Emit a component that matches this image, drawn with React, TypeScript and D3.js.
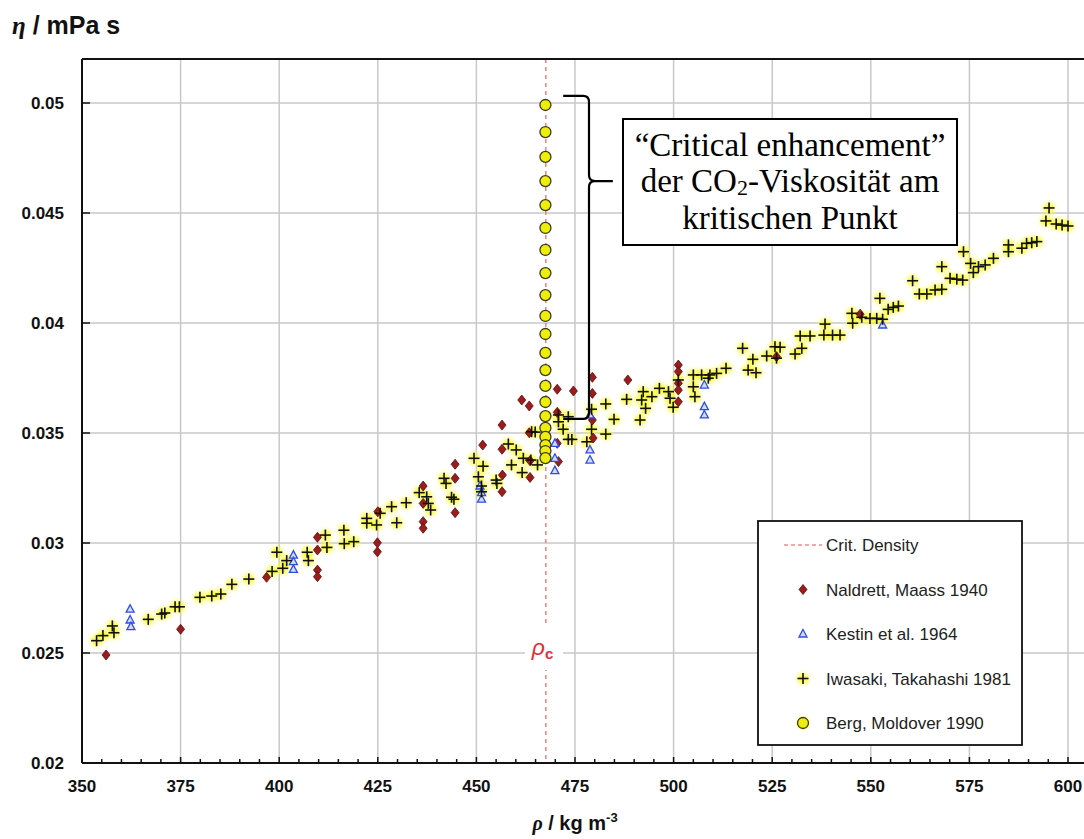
import React from 'react';
import * as d3 from 'd3';

// CO2 viscosity near the critical density, several experimental data sets.
// Each series: [density rho (kg/m3), viscosity eta (mPa s)]
const naldrett: [number, number][] = [
  [356.1, 0.02491], [375.0, 0.02608], [396.8, 0.02844],
  [409.7, 0.03026], [409.7, 0.02968], [409.7, 0.02877], [409.7, 0.02847],
  [424.9, 0.03001], [424.9, 0.0296], [425.0, 0.03142],
  [436.5, 0.03259], [436.5, 0.0318], [436.5, 0.03097], [436.5, 0.03067],
  [444.6, 0.03358], [444.6, 0.03294], [444.6, 0.03138],
  [451.6, 0.03445],
  [456.5, 0.03536], [456.5, 0.03426], [456.6, 0.03309], [456.5, 0.03233],
  [461.5, 0.0365], [463.4, 0.03623], [463.4, 0.03501], [463.6, 0.03374], [463.6, 0.03298],
  [470.5, 0.03699], [470.5, 0.03594], [470.5, 0.03453], [470.8, 0.0337],
  [474.6, 0.03691],
  [479.4, 0.03753], [479.4, 0.0368], [479.4, 0.03559], [479.6, 0.03477],
  [488.4, 0.03741],
  [501.2, 0.03809], [501.2, 0.03779], [501.2, 0.03726], [501.2, 0.03695], [501.2, 0.03642],
  [526.1, 0.03847], [547.3, 0.0404],
];

const kestin: [number, number][] = [
  [362.2, 0.02699], [362.2, 0.0265], [362.4, 0.0262],
  [403.6, 0.02945], [403.6, 0.02915], [403.6, 0.0288],
  [450.9, 0.03259], [451.3, 0.03229], [451.3, 0.03199],
  [469.9, 0.03453], [469.9, 0.03385], [469.9, 0.03329],
  [478.8, 0.03582], [478.8, 0.03423], [478.8, 0.03377],
  [507.8, 0.03718], [507.8, 0.0362], [507.8, 0.03582],
  [553.0, 0.03991],
];

const iwasaki: [number, number][] = [
  [353.7, 0.02556], [355.3, 0.02579], [357.7, 0.02623], [358.1, 0.02592],
  [366.8, 0.02653], [370.2, 0.02677], [371.0, 0.02682], [373.6, 0.0271], [374.7, 0.0271],
  [379.9, 0.02753], [382.9, 0.02759], [385.2, 0.02768], [388.0, 0.02812], [392.3, 0.02836],
  [398.2, 0.02871], [399.4, 0.02958], [400.9, 0.02885], [401.9, 0.0292],
  [407.1, 0.02958], [407.4, 0.0292], [411.7, 0.03036], [412.1, 0.0298],
  [416.4, 0.03058], [416.5, 0.02997], [418.9, 0.03006],
  [422.2, 0.03112], [422.2, 0.0309], [424.7, 0.03082], [425.6, 0.03135],
  [428.5, 0.03165], [429.8, 0.03092], [432.2, 0.03183],
  [435.5, 0.03229], [437.4, 0.0321], [437.8, 0.0318], [438.4, 0.0315],
  [441.8, 0.03294], [442.3, 0.03271], [443.7, 0.03208], [444.3, 0.03199],
  [449.4, 0.03385], [451.7, 0.03349], [450.5, 0.03301], [451.3, 0.03259], [451.3, 0.03233],
  [455.0, 0.03286], [455.2, 0.03271],
  [458.1, 0.0345], [460.1, 0.03423], [458.9, 0.03355], [461.9, 0.03385], [461.6, 0.0332],
  [463.8, 0.03377], [465.5, 0.03355], [464.0, 0.03506], [464.9, 0.03504],
  [470.8, 0.03582], [470.8, 0.03551], [473.3, 0.03574], [472.0, 0.03517],
  [473.3, 0.03471], [474.2, 0.03471],
  [479.2, 0.03608], [479.2, 0.03517], [478.0, 0.0346],
  [482.8, 0.03632], [484.9, 0.03562], [482.8, 0.03495],
  [488.1, 0.03653], [491.5, 0.03559], [491.9, 0.0365], [492.3, 0.03688], [492.9, 0.03612],
  [494.5, 0.03665], [496.4, 0.03703], [498.7, 0.03688], [499.1, 0.03658], [499.9, 0.03617],
  [501.2, 0.03741], [505.0, 0.03764], [505.0, 0.0371], [505.4, 0.03665],
  [507.1, 0.03764], [508.8, 0.03749], [509.2, 0.03764], [510.9, 0.03771], [513.3, 0.03794],
  [517.5, 0.03885], [520.1, 0.03835], [518.9, 0.03786], [520.9, 0.03774],
  [523.6, 0.0385], [525.7, 0.03892], [527.0, 0.0389], [526.1, 0.0384],
  [530.8, 0.03859], [532.5, 0.03885], [532.1, 0.03941], [534.6, 0.03941],
  [538.4, 0.03995], [538.1, 0.03945], [540.3, 0.03945], [542.2, 0.03945],
  [545.4, 0.03999], [545.2, 0.04044], [547.7, 0.04026], [549.8, 0.04021],
  [551.5, 0.04021], [553.0, 0.04017], [552.3, 0.04112],
  [554.4, 0.04062], [555.7, 0.04071], [557.0, 0.04077],
  [560.6, 0.04192], [562.3, 0.04132], [564.2, 0.04132], [566.3, 0.0415],
  [568.0, 0.04153], [568.0, 0.04256], [570.1, 0.04203], [571.8, 0.04199], [573.3, 0.04195],
  [573.5, 0.04324], [575.3, 0.04271], [576.0, 0.04229], [577.3, 0.04256],
  [579.0, 0.04264], [581.1, 0.04294], [584.9, 0.04355], [584.9, 0.04324],
  [588.3, 0.0434], [589.5, 0.04362], [590.8, 0.04365], [592.1, 0.0437],
  [595.2, 0.04523], [594.4, 0.04464], [597.0, 0.0445], [598.5, 0.04445], [600.0, 0.04441],
];

const bergRho = 467.5;
const bergEta: number[] = [
  0.04991, 0.04868, 0.04755, 0.04645, 0.04536, 0.04432, 0.04332, 0.04227,
  0.04127, 0.04032, 0.0395, 0.03864, 0.03786, 0.03714, 0.03641, 0.03577,
  0.03523, 0.03482, 0.03445, 0.03418, 0.03386,
];

const rhoCrit = 467.6;

const xTicks = [350, 375, 400, 425, 450, 475, 500, 525, 550, 575, 600];
const xMinorTicks = d3.range(350, 600.01, 5);
const yTicks = [0.02, 0.025, 0.03, 0.035, 0.04, 0.045, 0.05];
const yTickLabels = ['0.02', '0.025', '0.03', '0.035', '0.04', '0.045', '0.05'];

const legendLabels = [
  'Crit. Density',
  'Naldrett, Maass 1940',
  'Kestin et al. 1964',
  'Iwasaki, Takahashi 1981',
  'Berg, Moldover 1990',
];

const W = 1084;
const H = 839;
const x = d3.scaleLinear().domain([350, 600]).range([82, 1068]);
const y = d3.scaleLinear().domain([0.02, 0.052]).range([763, 59]);

const SANS = '"Liberation Sans", Arial, Helvetica, sans-serif';
const SERIF = '"Liberation Serif", "Times New Roman", serif';

const diamond = 'M0,-5L4,0L0,5L-4,0Z';
const triangle = 'M0,-4.5L4,3L-4,3Z';

function Diamond({ cx, cy }: { cx: number; cy: number }) {
  return <path d={diamond} transform={`translate(${cx},${cy})`} fill="#9b1c1c" stroke="#5e0d0d" strokeWidth={0.8} />;
}
function Triangle({ cx, cy }: { cx: number; cy: number }) {
  return <path d={triangle} transform={`translate(${cx},${cy})`} fill="#d4dafc" stroke="#2f4de6" strokeWidth={1.3} />;
}
function Plus({ cx, cy }: { cx: number; cy: number }) {
  return (
    <g transform={`translate(${cx},${cy})`} stroke="#111" strokeWidth={1.6}>
      <line x1={-5.5} x2={5.5} y1={0} y2={0} />
      <line x1={0} x2={0} y1={-5.5} y2={5.5} />
    </g>
  );
}
function Circle({ cx, cy }: { cx: number; cy: number }) {
  return <circle cx={cx} cy={cy} r={5.5} fill="#eeee0a" stroke="#3a3a20" strokeWidth={1.3} />;
}

export default function App() {
  const x0 = x.range()[0];
  const yBottom = y.range()[0];
  const yTop = y.range()[1];
  const xc = x(rhoCrit);

  // curly brace marking the critical enhancement of the Berg data
  const bx0 = x(472.0);
  const bx = x(478.55);
  const bTip = x(484.6);
  const byTop = y(0.05032);
  const byMid = y(0.04645);
  const byBot = y(0.03564);
  const r = 6;
  const brace = [
    `M${bx0},${byTop}`,
    `L${bx - r},${byTop}`,
    `Q${bx},${byTop} ${bx},${byTop + r}`,
    `L${bx},${byMid - r}`,
    `Q${bx},${byMid} ${bx + r},${byMid}`,
    `L${bTip},${byMid}`,
    `M${bx + r},${byMid}`,
    `Q${bx},${byMid} ${bx},${byMid + r}`,
    `L${bx},${byBot - r}`,
    `Q${bx},${byBot} ${bx - r},${byBot}`,
    `L${bx0},${byBot}`,
  ].join(' ');

  const legX = 758;
  const legY = 521;
  const legW = 264;
  const legH = 224;
  const legRowY = (i: number) => 545 + i * 44.5;
  const legMarkX = 803;

  return (
    <svg width={W} height={H} style={{ position: 'absolute', left: 0, top: 0, background: '#fff' }}>
      <defs>
        <filter id="halo" x="-60%" y="-60%" width="220%" height="220%">
          <feGaussianBlur stdDeviation={2} />
        </filter>
        <clipPath id="plotClip">
          <rect x={x0} y={yTop} width={W - x0} height={yBottom - yTop} />
        </clipPath>
      </defs>

      {/* grid */}
      <g stroke="#c8c8c8" strokeWidth={1.5}>
        {xTicks.slice(1).map((t) => (
          <line key={t} x1={x(t)} x2={x(t)} y1={yTop} y2={yBottom} />
        ))}
        {yTicks.slice(1).map((t) => (
          <line key={t} x1={x0} x2={W} y1={y(t)} y2={y(t)} />
        ))}
      </g>

      {/* critical density */}
      <line x1={xc} x2={xc} y1={yTop} y2={yBottom} stroke="#f08a8a" strokeWidth={1.6} strokeDasharray="4,4" />
      <rect x={525} y={626} width={38} height={44} fill="#fff" />
      <text x={xc - 14} y={655} fill="#e3303a" fontFamily={SANS} fontSize={23} fontStyle="italic">
        ρ
        <tspan fontSize={15} fontWeight="bold" fontStyle="normal" dy={4}>c</tspan>
      </text>

      {/* data */}
      <g clipPath="url(#plotClip)">
        <g filter="url(#halo)" fill="#f9f93a">
          {iwasaki.map((d, i) => (
            <circle key={i} cx={x(d[0])} cy={y(d[1])} r={5.5} />
          ))}
        </g>
        {naldrett.map((d, i) => (
          <Diamond key={i} cx={x(d[0])} cy={y(d[1])} />
        ))}
        {kestin.map((d, i) => (
          <Triangle key={i} cx={x(d[0])} cy={y(d[1])} />
        ))}
        {iwasaki.map((d, i) => (
          <Plus key={i} cx={x(d[0])} cy={y(d[1])} />
        ))}
        {bergEta.map((e, i) => (
          <Circle key={i} cx={x(bergRho)} cy={y(e)} />
        ))}
      </g>

      {/* frame and axes */}
      <line x1={x0} x2={W} y1={yTop} y2={yTop} stroke="#111" strokeWidth={2} />
      <line x1={x0} x2={x0} y1={yTop} y2={yBottom} stroke="#111" strokeWidth={2} />
      <line x1={x0} x2={W} y1={yBottom} y2={yBottom} stroke="#111" strokeWidth={2} />
      <g stroke="#111" strokeWidth={1.5}>
        {xMinorTicks.map((t) => (
          <line key={t} x1={x(t)} x2={x(t)} y1={yBottom} y2={yBottom - (t % 25 === 0 ? 6 : 4)} />
        ))}
        {yTicks.map((t) => (
          <line key={t} x1={x0} x2={x0 + 8} y1={y(t)} y2={y(t)} />
        ))}
      </g>
      <g fontFamily={SANS} fontWeight="bold" fontSize={17} fill="#111">
        {xTicks.map((t) => (
          <text key={t} x={x(t)} y={792} textAnchor="middle">{t}</text>
        ))}
        {yTicks.map((t, i) => (
          <text key={t} x={64} y={y(t) + 6} textAnchor="end">{yTickLabels[i]}</text>
        ))}
      </g>

      {/* axis titles */}
      <text x={12} y={34} fontFamily={SANS} fontWeight="bold" fontSize={25} fill="#111">
        <tspan fontStyle="italic" fontFamily={SERIF}>η</tspan> / mPa s
      </text>
      <text x={575} y={830} textAnchor="middle" fontFamily={SANS} fontWeight="bold" fontSize={20} fill="#111">
        <tspan fontStyle="italic" fontFamily={SERIF}>ρ</tspan> / kg m
        <tspan fontSize={13} dy={-8}>-3</tspan>
      </text>

      {/* annotation */}
      <path d={brace} fill="none" stroke="#000" strokeWidth={2.2} />
      <rect x={623} y={119} width={334} height={126} fill="#fff" stroke="#000" strokeWidth={2} />
      <g fontFamily={SERIF} fontSize={33} fill="#000" textAnchor="middle">
        <text x={790} y={156}>“Critical enhancement”</text>
        <text x={790} y={192}>
          der CO<tspan fontSize={22} dy={3}>2</tspan>
          <tspan dy={-3}>-Viskosität am</tspan>
        </text>
        <text x={790} y={229}>kritischen Punkt</text>
      </g>

      {/* legend */}
      <rect x={legX} y={legY} width={legW} height={legH} fill="#fff" stroke="#111" strokeWidth={1.8} />
      <line x1={784} x2={822} y1={legRowY(0)} y2={legRowY(0)} stroke="#f08a8a" strokeWidth={1.6} strokeDasharray="4,3" />
      <Diamond cx={legMarkX} cy={legRowY(1)} />
      <Triangle cx={legMarkX} cy={legRowY(2)} />
      <circle cx={legMarkX} cy={legRowY(3)} r={5.5} fill="#f9f93a" filter="url(#halo)" />
      <Plus cx={legMarkX} cy={legRowY(3)} />
      <circle cx={legMarkX} cy={legRowY(4)} r={5.5} fill="#f9f93a" filter="url(#halo)" />
      <Circle cx={legMarkX} cy={legRowY(4)} />
      <g fontFamily={SANS} fontSize={17} fill="#222">
        {legendLabels.map((l, i) => (
          <text key={l} x={826} y={legRowY(i) + 6}>{l}</text>
        ))}
      </g>
    </svg>
  );
}
